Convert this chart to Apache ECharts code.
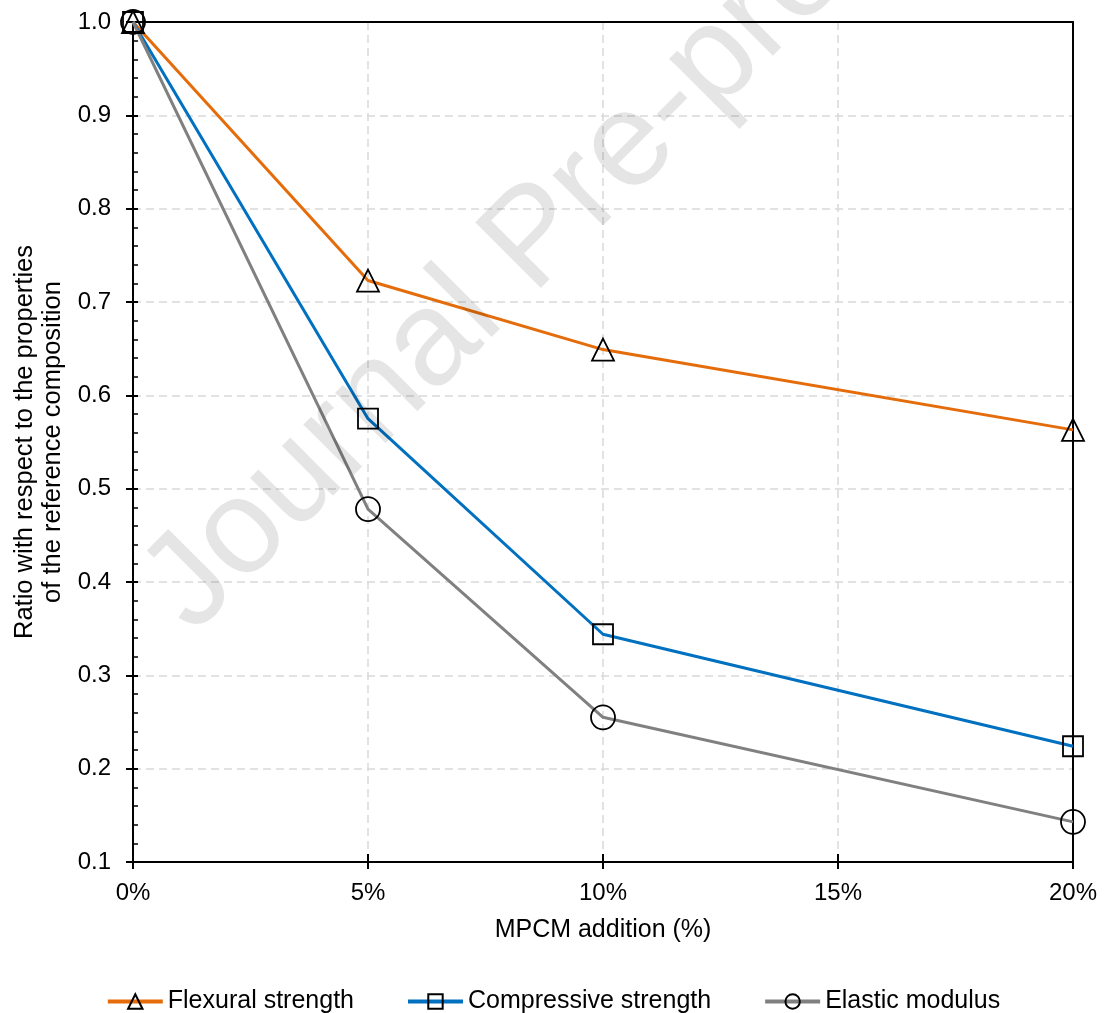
<!DOCTYPE html>
<html>
<head>
<meta charset="utf-8">
<title>MPCM addition vs. mechanical properties</title>
<script src="https://cdn.jsdelivr.net/npm/echarts@6/dist/echarts.min.js"></script>
<style>
  html, body { margin: 0; padding: 0; background: #fff; }
  #chart { width: 1106px; height: 1013px; }
</style>
</head>
<body>
<div id="chart"></div>
<script>
// MPCM addition levels (%)
const additionPct = [0, 5, 10, 20];

// Property ratios relative to the reference composition
const flexuralStrength = [1.0, 0.723, 0.649, 0.563];
const compressiveStrength = [1.0, 0.575, 0.344, 0.224];
const elasticModulus = [1.0, 0.478, 0.255, 0.143];

const seriesNames = ['Flexural strength', 'Compressive strength', 'Elastic modulus'];

const FONT = '"Liberation Sans", Arial, sans-serif';
const BLACK = '#000';

function pairs(values) {
  return additionPct.map((x, i) => [x, values[i]]);
}

function lineSeries(name, values, color, symbol, size) {
  return {
    name: name,
    type: 'line',
    xAxisIndex: 0,
    yAxisIndex: 0,
    data: pairs(values),
    clip: false,
    symbol: symbol,
    symbolSize: size,
    color: color,
    lineStyle: { color: color, width: 3 },
    itemStyle: { color: 'transparent', borderColor: BLACK, borderWidth: 1.8 },
    emphasis: { disabled: true }
  };
}

const chart = echarts.init(document.getElementById('chart'), null, { renderer: 'canvas' });

const tickLine = { color: BLACK, width: 2 };
const gridLine = { color: '#d9d9d9', width: 1.5, type: [8, 5] };

chart.setOption({
  animation: false,
  backgroundColor: '#fff',
  textStyle: { fontFamily: FONT },
  grid: { left: 133, right: 33, top: 22, bottom: 151 },
  xAxis: [
    {
      type: 'value', position: 'bottom', min: 0, max: 20, interval: 5,
      axisLine: { show: true, onZero: false, lineStyle: tickLine },
      axisTick: { show: true, inside: false, length: 7, lineStyle: tickLine },
      axisLabel: {
        formatter: '{value}%', fontSize: 24, color: BLACK, fontFamily: FONT, margin: 19,
        showMinLabel: true, showMaxLabel: true
      },
      splitLine: { show: true, lineStyle: gridLine },
      name: 'MPCM addition (%)', nameLocation: 'middle', nameGap: 56,
      nameTextStyle: { fontSize: 25, color: BLACK, fontFamily: FONT }
    },
    {
      // top frame
      type: 'value', position: 'top', min: 0, max: 20, interval: 5,
      axisLine: { show: true, onZero: false, lineStyle: tickLine },
      axisTick: { show: false }, axisLabel: { show: false }, splitLine: { show: false }
    },
    {
      // inner half of the crossing ticks on the bottom axis
      type: 'value', position: 'bottom', min: 0, max: 20, interval: 5,
      axisLine: { show: false, onZero: false },
      axisTick: { show: true, inside: true, length: 8, lineStyle: tickLine },
      axisLabel: { show: false }, splitLine: { show: false }
    }
  ],
  yAxis: [
    {
      type: 'value', position: 'left', min: 0.1, max: 1.0, interval: 0.1,
      axisLine: { show: true, onZero: false, lineStyle: tickLine },
      axisTick: { show: true, inside: false, length: 7, lineStyle: tickLine },
      axisLabel: {
        formatter: v => v.toFixed(1), fontSize: 24, color: BLACK, fontFamily: FONT, margin: 22,
        showMinLabel: true, showMaxLabel: true
      },
      splitLine: { show: true, lineStyle: gridLine },
      name: 'Ratio with respect to the properties\nof the reference composition',
      nameLocation: 'middle', nameRotate: 90, nameGap: 51,
      nameTextStyle: { fontSize: 25.5, lineHeight: 28, color: BLACK, fontFamily: FONT, align: 'center' }
    },
    {
      // right frame
      type: 'value', position: 'right', min: 0.1, max: 1.0, interval: 0.1,
      axisLine: { show: true, onZero: false, lineStyle: tickLine },
      axisTick: { show: false }, axisLabel: { show: false }, splitLine: { show: false }
    },
    {
      // inner ticks and minor ticks on the left axis
      type: 'value', position: 'left', min: 0.1, max: 1.0, interval: 0.1,
      axisLine: { show: false, onZero: false },
      axisTick: { show: true, inside: true, length: 5, lineStyle: tickLine },
      minorTick: { show: true, splitNumber: 5, length: 5, lineStyle: { color: BLACK, width: 1.5 } },
      axisLabel: { show: false }, splitLine: { show: false }
    }
  ],
  legend: {
    data: seriesNames,
    left: 'center',
    top: 984,
    itemWidth: 55,
    itemHeight: 18,
    itemGap: 52,
    lineStyle: { width: 4 },
    textStyle: { fontSize: 25, color: BLACK, fontFamily: FONT }
  },
  graphic: [
    {
      type: 'text',
      silent: true,
      z: 100,
      x: 167,
      y: 609,
      rotation: Math.PI / 4,
      style: {
        text: 'Journal Pre-proof',
        font: '135px "Liberation Sans", Arial, sans-serif',
        fill: 'rgba(0,0,0,0.1)',
        textAlign: 'left',
        textVerticalAlign: 'middle',
        align: 'left',
        verticalAlign: 'middle'
      }
    }
  ],
  series: [
    lineSeries(seriesNames[0], flexuralStrength, '#E46C0A', 'triangle', 22),
    lineSeries(seriesNames[1], compressiveStrength, '#0070C0', 'rect', 20),
    lineSeries(seriesNames[2], elasticModulus, '#808080', 'circle', 24)
  ]
});
</script>
</body>
</html>
